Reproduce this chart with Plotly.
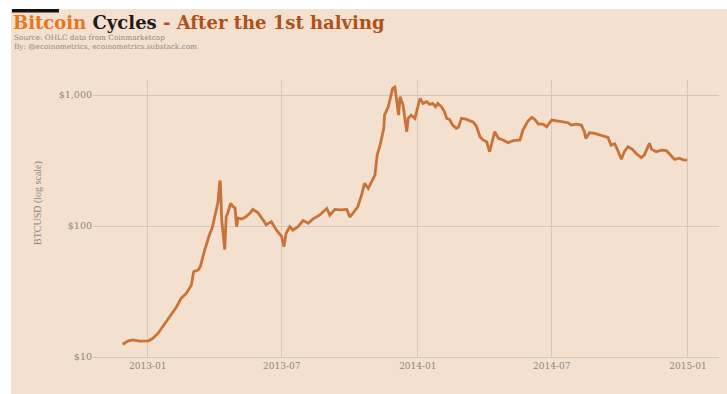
import plotly.graph_objects as go

dates = [
    "2012-11-28", "2012-12-06", "2012-12-12", "2012-12-21", "2013-01-02", "2013-01-08",
    "2013-01-15", "2013-01-22", "2013-01-31", "2013-02-09", "2013-02-15", "2013-02-22",
    "2013-03-01", "2013-03-04", "2013-03-10", "2013-03-13", "2013-03-19", "2013-03-21",
    "2013-03-26", "2013-03-29", "2013-04-03", "2013-04-06", "2013-04-08", "2013-04-09",
    "2013-04-11", "2013-04-13", "2013-04-15", "2013-04-17", "2013-04-19", "2013-04-23",
    "2013-04-26", "2013-04-29", "2013-05-01", "2013-05-03", "2013-05-08", "2013-05-14",
    "2013-05-19", "2013-05-23", "2013-05-30", "2013-06-06", "2013-06-10", "2013-06-17",
    "2013-06-24", "2013-07-01", "2013-07-04", "2013-07-07", "2013-07-12", "2013-07-16",
    "2013-07-23", "2013-07-30", "2013-08-06", "2013-08-12", "2013-08-21", "2013-08-31",
    "2013-09-04", "2013-09-11", "2013-09-18", "2013-09-27", "2013-10-01", "2013-10-08",
    "2013-10-12", "2013-10-17", "2013-10-21", "2013-10-26", "2013-11-01", "2013-11-04",
    "2013-11-07", "2013-11-11", "2013-11-16", "2013-11-17", "2013-11-22", "2013-11-25",
    "2013-11-28", "2013-12-01", "2013-12-03", "2013-12-06", "2013-12-08", "2013-12-12",
    "2013-12-17", "2013-12-19", "2013-12-23", "2013-12-28", "2014-01-01", "2014-01-04",
    "2014-01-08", "2014-01-13", "2014-01-17", "2014-01-21", "2014-01-25", "2014-01-28",
    "2014-02-02", "2014-02-06", "2014-02-09", "2014-02-13", "2014-02-17", "2014-02-22",
    "2014-02-25", "2014-03-01", "2014-03-07", "2014-03-12", "2014-03-17", "2014-03-21",
    "2014-03-26", "2014-03-30", "2014-04-04", "2014-04-08", "2014-04-11", "2014-04-15",
    "2014-04-20", "2014-04-26", "2014-05-03", "2014-05-10", "2014-05-19", "2014-05-23",
    "2014-05-30", "2014-06-04", "2014-06-08", "2014-06-13", "2014-06-19", "2014-06-24",
    "2014-07-01", "2014-07-07", "2014-07-16", "2014-07-23", "2014-07-27", "2014-08-03",
    "2014-08-10", "2014-08-14", "2014-08-16", "2014-08-21", "2014-08-28", "2014-09-04",
    "2014-09-10", "2014-09-15", "2014-09-19", "2014-09-24", "2014-09-28", "2014-10-03",
    "2014-10-07", "2014-10-12", "2014-10-18", "2014-10-23", "2014-10-30", "2014-11-03",
    "2014-11-10", "2014-11-13", "2014-11-19", "2014-11-26", "2014-12-03", "2014-12-07",
    "2014-12-14", "2014-12-20", "2014-12-26", "2014-12-31",
]

btcusd = [
    12.5, 13.3, 13.5, 13.2, 13.3, 13.9,
    15.2, 17.3, 20.3, 24.2, 28, 30.6,
    35.5, 44.8, 46, 49, 65.6, 71.6,
    88, 96, 132, 153, 212, 222,
    111, 83, 66, 118, 125, 149,
    141, 137, 99, 115, 113, 118,
    125, 134, 126, 111, 102, 108,
    93, 83, 69.5, 88, 99, 93,
    99, 110, 105, 113, 121, 136,
    121, 134, 133, 134, 117, 131,
    141, 173, 212, 194, 224, 245,
    348, 415, 557, 703, 814, 944,
    1125, 1150, 944, 703, 970, 839,
    525, 664, 703, 664, 814, 944,
    864, 889, 850, 864, 814, 864,
    814, 746, 664, 650, 590, 557,
    570, 664, 655, 633, 620, 580,
    481, 454, 440, 369, 428, 525,
    467, 454, 432, 448, 454, 540,
    636, 675, 652, 600, 600, 573,
    645, 636, 625, 615, 590, 600,
    590, 525, 467, 516, 510, 495,
    486, 475, 415, 425, 380, 323,
    369, 403, 385, 358, 333, 348,
    428, 385, 369, 380, 376, 358,
    323, 330, 320, 318,
]

x_ticks = ["2013-01-01", "2013-07-01", "2014-01-01", "2014-07-01", "2015-01-01"]
x_ticklabels = ["2013-01", "2013-07", "2014-01", "2014-07", "2015-01"]
y_ticks = [10, 100, 1000]
y_ticklabels = ["$10", "$100", "$1,000"]

BG = "#F3E0CE"
GRID = "#D6C7BA"
LINE = "#C8733A"
GRAY = "#8C8782"

W, H = 727, 394
ML, MR, MT, MB = 93, 8, 80, 37
PW, PH = W - ML - MR, H - MT - MB


def px(xp):
    return (xp - ML) / PW


def py(yp):
    return (H - MB - yp) / PH


fig = go.Figure()
fig.add_trace(go.Scatter(
    x=dates, y=btcusd, mode="lines",
    line=dict(color=LINE, width=2.8),
    hoverinfo="x+y", showlegend=False,
))

fig.update_layout(
    width=W, height=H,
    margin=dict(l=ML, r=MR, t=MT, b=MB),
    paper_bgcolor=BG, plot_bgcolor=BG,
    xaxis=dict(
        type="date", range=["2012-10-19", "2015-02-12"],
        tickvals=x_ticks, ticktext=x_ticklabels,
        showgrid=True, gridcolor=GRID, gridwidth=1,
        showline=True, linecolor=GRID, linewidth=1,
        zeroline=False, ticks="",
        tickfont=dict(family="DejaVu Serif", size=9, color=GRAY),
    ),
    yaxis=dict(
        type="log", range=[1, 3.115],
        tickvals=y_ticks, ticktext=y_ticklabels,
        showgrid=True, gridcolor=GRID, gridwidth=1,
        showline=False, zeroline=False, ticks="",
        tickfont=dict(family="DejaVu Serif", size=9.5, color=GRAY),
    ),
    shapes=[
        dict(type="rect", xref="paper", yref="paper", x0=px(0), x1=px(11), y0=py(H), y1=py(0),
             fillcolor="white", line=dict(width=0), layer="below"),
        dict(type="rect", xref="paper", yref="paper", x0=px(0), x1=px(W), y0=py(9), y1=py(0),
             fillcolor="white", line=dict(width=0), layer="below"),
        dict(type="rect", xref="paper", yref="paper", x0=px(12), x1=px(59), y0=py(12.5), y1=py(9),
             fillcolor="#111111", line=dict(width=0)),
    ],
    annotations=[
        dict(xref="paper", yref="paper", x=px(11), y=py(23), xanchor="left", yanchor="middle",
             showarrow=False,
             text="<span style='color:#E8761E'>Bitcoin</span> <span style='color:#1E1A18'>Cycles</span>"
                  "<span style='color:#B0501A'> - After the 1st halving</span>",
             font=dict(family="DejaVu Serif", size=18, color="#B0501A", weight="bold")),
        dict(xref="paper", yref="paper", x=px(12), y=py(37.5), xanchor="left", yanchor="middle",
             showarrow=False, text="Source: OHLC data from Coinmarketcap",
             font=dict(family="DejaVu Serif", size=7.3, color=GRAY)),
        dict(xref="paper", yref="paper", x=px(12), y=py(46.5), xanchor="left", yanchor="middle",
             showarrow=False, text="By: @ecoinometrics, ecoinometrics.substack.com",
             font=dict(family="DejaVu Serif", size=7.3, color=GRAY)),
        dict(xref="paper", yref="paper", x=px(38), y=py(203), xanchor="center", yanchor="middle",
             showarrow=False, textangle=-90, text="BTCUSD (log scale)",
             font=dict(family="Liberation Serif", size=10, color=GRAY)),
    ],
)

fig.write_html("out.html")
